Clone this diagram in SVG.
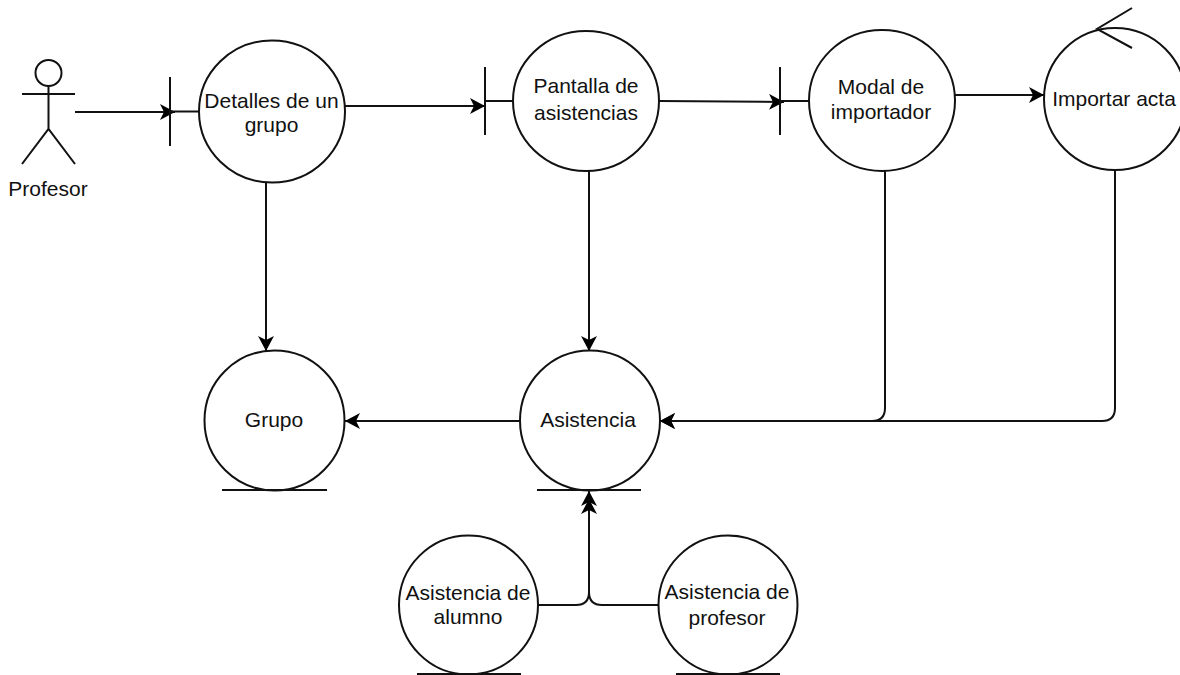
<svg xmlns="http://www.w3.org/2000/svg" width="1180" height="675" viewBox="0 0 1180 675">
<style>
.s{fill:none;stroke:#111;stroke-width:2}
.c{fill:#fff;stroke:#111;stroke-width:2}
text{font-family:"Liberation Sans",Arial,sans-serif;font-size:21px;fill:#111;text-anchor:middle}
</style>
<defs>
<marker id="a" markerUnits="userSpaceOnUse" markerWidth="16" markerHeight="16" refX="15" refY="8" orient="auto"><path d="M0 0L15 8L0 16L4 8Z" fill="#000"/></marker>
</defs>
<rect width="1180" height="675" fill="#fff"/>
<g id="connectors" class="s">
<path class="s" d="M75 112H175" marker-end="url(#a)"/>
<path class="s" d="M344 106H485" marker-end="url(#a)"/>
<path class="s" d="M659 101L784 102" marker-end="url(#a)"/>
<path class="s" d="M955 95H1044" marker-end="url(#a)"/>
<path class="s" d="M266 182V351" marker-end="url(#a)"/>
<path class="s" d="M589 171V351" marker-end="url(#a)"/>
<path class="s" d="M885 171V408Q885 421 872 421H660" marker-end="url(#a)"/>
<path class="s" d="M1115 170V408Q1115 421 1102 421H660" marker-end="url(#a)"/>
<path class="s" d="M520 421H345" marker-end="url(#a)"/>
<path class="s" d="M538 605H576Q589 605 589 592V491" marker-end="url(#a)"/>
<path class="s" d="M658 605H602Q589 605 589 592V499" marker-end="url(#a)"/>
</g>
<g id="profesor"><circle class="c" cx="48.500" cy="73" r="13"/><path class="s" d="M48.500 86V129M22 94H75M22 164L48.500 129L75 164"/><text x="48" y="196">Profesor</text></g>
<g id="detalles"><path class="s" d="M170 77V146M170 111.500H199"/><ellipse class="c" cx="272" cy="111.500" rx="73" ry="71"/><text x="271.500" y="108">Detalles de un</text><text x="271.500" y="132">grupo</text></g>
<g id="pantalla"><path class="s" d="M485 67V135M485 101H513"/><ellipse class="c" cx="586" cy="101" rx="73" ry="70"/><text x="586" y="93">Pantalla de</text><text x="586" y="120">asistencias</text></g>
<g id="modal"><path class="s" d="M780 67V135M780 101H809"/><ellipse class="c" cx="882" cy="100.500" rx="73" ry="70.500"/><text x="881" y="94">Modal de</text><text x="881" y="119">importador</text></g>
<g id="importar"><circle class="c" cx="1115" cy="99" r="71"/><path class="s" d="M1132 8L1097 29L1132 48"/><text x="1114" y="106">Importar acta</text></g>
<g id="grupo"><circle class="c" cx="274.500" cy="420.500" r="70"/><path class="s" d="M222 490H327"/><text x="274" y="427">Grupo</text></g>
<g id="asistencia"><circle class="c" cx="590" cy="420.500" r="70"/><path class="s" d="M537 490H641"/><text x="588" y="427">Asistencia</text></g>
<g id="alumno"><circle class="c" cx="468.500" cy="605" r="69.500"/><path class="s" d="M417 674H521"/><text x="468" y="600">Asistencia de</text><text x="468" y="624">alumno</text></g>
<g id="prof"><circle class="c" cx="728" cy="605" r="69.500"/><path class="s" d="M676 674H780"/><text x="727" y="599">Asistencia de</text><text x="727" y="625">profesor</text></g>
</svg>
